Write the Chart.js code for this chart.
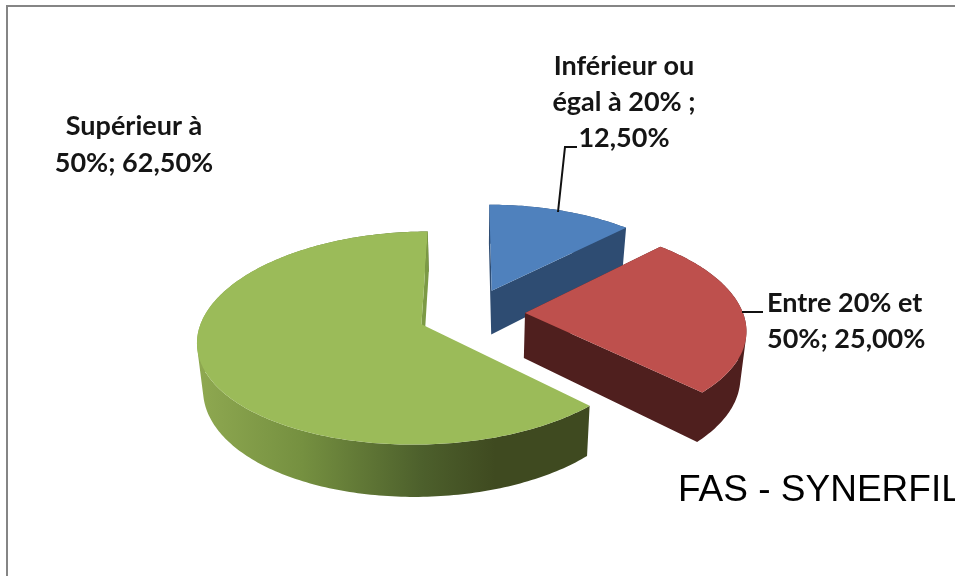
<!DOCTYPE html>
<html>
<head>
<meta charset="utf-8">
<style>
html,body{margin:0;padding:0;background:#fff;width:955px;height:576px;overflow:hidden}
#frame{position:absolute;left:6px;top:5px;right:0;bottom:0;border-top:2px solid #858585;border-left:2px solid #858585}
canvas{position:absolute;left:0;top:0}
</style>
<script src="https://cdn.jsdelivr.net/npm/chart.js@4"></script>
</head>
<body>
<div id="frame"></div>
<canvas id="c" width="955" height="576"></canvas>
<script>
const categories = ['Inférieur ou égal à 20%', 'Entre 20% et 50%', 'Supérieur à 50%'];
const values = [12.5, 25, 62.5];
const topColors = ['#4f81bd', '#be504d', '#9bbb59'];
const sideColors = ['#2e4c72', '#4f1f1e', '#3f4a20'];
const labelLines = [
  ['Inférieur ou', 'égal à 20% ;', '12,50%'],
  ['Entre 20% et', '50%; 25,00%'],
  ['Supérieur à', '50%; 62,50%']
];
const caption = 'FAS - SYNERFIL';

// view settings of the tilted pie
const DEPTH_SQUASH = 0.469, PERSPECTIVE_Y = 0.000585, PERSPECTIVE_X = 0.00065, THICKNESS = 45, BOTTOM_SHRINK = 0.978;
const SLICE_OFFSETS = [53, 53, 54];
const SLICE_LIFT = [0, 0, 1.5];

function project(cx, cy, wx, wz, lower) {
  const sy = 1 / (1 - PERSPECTIVE_Y * wz);
  const sx = 1 / (1 - PERSPECTIVE_X * wz);
  const f = lower ? BOTTOM_SHRINK : 1;
  return [cx + wx * sx * f, cy + DEPTH_SQUASH * wz * sy + (lower ? THICKNESS * sy : 0)];
}

function poly(ctx, pts, fill) {
  ctx.beginPath();
  pts.forEach((p, i) => i ? ctx.lineTo(p[0], p[1]) : ctx.moveTo(p[0], p[1]));
  ctx.closePath();
  ctx.fillStyle = fill;
  ctx.fill();
}

function area(pts) {
  let s = 0;
  pts.forEach((p, i) => {
    const q = pts[(i + 1) % pts.length];
    s += p[0] * q[1] - q[0] * p[1];
  });
  return s;
}

// fills many polygons as one shape, so no seams show between them
function polyUnion(ctx, shapes, fill) {
  ctx.beginPath();
  shapes.forEach(shape => {
    const pts = area(shape) < 0 ? shape.slice().reverse() : shape;
    pts.forEach((p, i) => i ? ctx.lineTo(p[0], p[1]) : ctx.moveTo(p[0], p[1]));
    ctx.closePath();
  });
  ctx.fillStyle = fill;
  ctx.fill('nonzero');
}

const pie3d = {
  id: 'pie3d',
  beforeDatasetDraw(chart) {
    const ctx = chart.ctx;
    const arcs = chart.getDatasetMeta(0).data;
    arcs.forEach((arc, i) => {
      const { x, y, startAngle, endAngle, outerRadius } = arc.getProps(['x', 'y', 'startAngle', 'endAngle', 'outerRadius'], true);
      const mid = (startAngle + endAngle) / 2;
      const off = arc.options.offset;
      const ox = off * Math.cos(mid), oz = off * Math.sin(mid);
      const cy = y + SLICE_LIFT[i];
      const steps = Math.ceil((endAngle - startAngle) / (Math.PI / 180));
      const top = [], low = [];
      for (let k = 0; k <= steps; k++) {
        const a = startAngle + (endAngle - startAngle) * k / steps;
        const wx = ox + outerRadius * Math.cos(a), wz = oz + outerRadius * Math.sin(a);
        top.push(project(x, cy, wx, wz, false));
        low.push(project(x, cy, wx, wz, true));
      }
      const apexT = project(x, cy, ox, oz, false), apexL = project(x, cy, ox, oz, true);
      const n = top.length - 1;
      const quads = [];
      for (let k = 0; k < n; k++) quads.push([top[k], top[k + 1], low[k + 1], low[k]]);
      const startFace = [apexT, top[0], low[0], apexL];
      const endFace = [apexT, top[n], low[n], apexL];
      if (endAngle - startAngle < Math.PI) {
        polyUnion(ctx, quads.concat([startFace, endFace]), sideColors[i]);
      } else {
        const g = ctx.createLinearGradient(196, 0, 590, 0);
        g.addColorStop(0, '#8fa951');
        g.addColorStop(0.27, '#759040');
        g.addColorStop(0.57, '#4d602c');
        g.addColorStop(0.76, '#3f4a20');
        g.addColorStop(1, '#3f4a20');
        polyUnion(ctx, quads, g);
        poly(ctx, endFace, '#7c9a45');
      }
      poly(ctx, [apexT].concat(top), topColors[i]);
    });
    return false;
  },
  afterDatasetsDraw(chart) {
    const ctx = chart.ctx;
    ctx.save();
    ctx.strokeStyle = '#111';
    ctx.lineWidth = 2;
    ctx.beginPath();
    ctx.moveTo(558, 212); ctx.lineTo(565, 147); ctx.lineTo(577, 147);
    ctx.moveTo(742, 312); ctx.lineTo(763, 312);
    ctx.stroke();
    ctx.fillStyle = '#151515';
    ctx.font = 'bold 27px Lato, sans-serif';
    ctx.textBaseline = 'alphabetic';
    const places = [
      { x: 624, y: 75, align: 'center', gap: 36 },
      { x: 767, y: 312, align: 'left', gap: 36 },
      { x: 134, y: 135, align: 'center', gap: 37 }
    ];
    labelLines.forEach((lines, i) => {
      const p = places[i];
      ctx.textAlign = p.align;
      lines.forEach((t, j) => ctx.fillText(t, p.x, p.y + j * p.gap));
    });
    ctx.font = '37px "Liberation Sans", Arial, sans-serif';
    ctx.textAlign = 'left';
    ctx.fillStyle = '#000';
    ctx.fillText(caption, 678, 501);
    ctx.restore();
  }
};

new Chart(document.getElementById('c'), {
  type: 'pie',
  data: {
    labels: categories,
    datasets: [{ data: values, backgroundColor: topColors, borderWidth: 0, offset: SLICE_OFFSETS }]
  },
  options: {
    responsive: false,
    animation: false,
    events: [],
    radius: 218,
    layout: { padding: { left: 0, right: 11, top: 50, bottom: 0 } },
    plugins: { legend: { display: false }, tooltip: { enabled: false } }
  },
  plugins: [pie3d]
});
</script>
</body>
</html>
